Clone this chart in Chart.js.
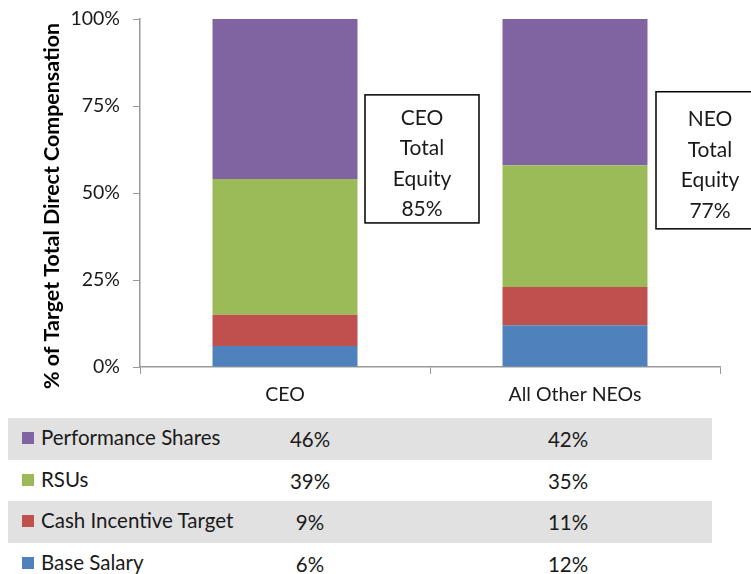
<!DOCTYPE html>
<html>
<head>
<meta charset="utf-8">
<script src="https://cdn.jsdelivr.net/npm/chart.js@4"></script>
<style>
  body { margin: 0; background: #fff; font-family: Lato, "Open Sans", sans-serif; }
  #wrap { position: relative; width: 751px; height: 574px; overflow: hidden; }
  #chartBox { position: absolute; left: 0; top: 0; width: 751px; height: 410px; }
  #table { position: absolute; left: 8px; top: 418px; width: 704px; }
  .row { position: relative; height: 41.5px; font-size: 20.5px; color: #1a1a1a; }
  .row.shade { background: #e1e1e1; }
  .sw { position: absolute; left: 14px; top: 14px; width: 12px; height: 12px; }
  .lab { position: absolute; left: 33px; top: 7px; }
  .val { position: absolute; top: 9px; width: 80px; margin-left: -40px; text-align: center; }
</style>
</head>
<body>
<div id="wrap">
  <div id="chartBox"><canvas id="myChart"></canvas></div>
  <div id="table"></div>
</div>
<script>
const categories = ['CEO', 'All Other NEOs'];
const baseSalary = [6, 12];
const cashIncentive = [9, 11];
const rsus = [39, 35];
const perfShares = [46, 42];
const totalEquity = [85, 77];
const boxNames = ['CEO', 'NEO'];
const yTicks = [0, 25, 50, 75, 100];
const yTitle = '% of Target Total Direct Compensation';

const dataBar = {
  labels: categories,
  datasets: [
    { label: 'Base Salary', data: baseSalary, backgroundColor: '#4f81bd' },
    { label: 'Cash Incentive Target', data: cashIncentive, backgroundColor: '#c0504d' },
    { label: 'RSUs', data: rsus, backgroundColor: '#9bbb59' },
    { label: 'Performance Shares', data: perfShares, backgroundColor: '#8064a2' }
  ]
};

// boxes with the total equity next to each bar, plus the y title
const equityBoxes = {
  id: 'equityBoxes',
  afterDatasetsDraw(chart) {
    const ctx = chart.ctx;
    const x = chart.scales.x, y = chart.scales.y;
    const spots = [
      { dx: 80, w: 114, top: 78.2, bottom: 41.4, tx: 57 },
      { dx: 81, w: 96, top: 79.1, bottom: 39.7, tx: 54 }
    ];
    ctx.save();
    spots.forEach((s, i) => {
      const left = x.getPixelForValue(i) + s.dx;
      const t = y.getPixelForValue(s.top);
      const b = y.getPixelForValue(s.bottom);
      ctx.fillStyle = '#fff';
      ctx.fillRect(left, t, s.w, b - t);
      ctx.strokeStyle = '#000';
      ctx.lineWidth = 1.5;
      ctx.strokeRect(left, t, s.w, b - t);
      ctx.fillStyle = '#1a1a1a';
      ctx.font = '21px Lato, "Open Sans", sans-serif';
      ctx.textAlign = 'center';
      ctx.textBaseline = 'middle';
      const lines = [boxNames[i], 'Total', 'Equity', totalEquity[i] + '%'];
      const mid = (t + b) / 2 + 5;
      lines.forEach((ln, k) => {
        ctx.fillText(ln, left + s.tx, mid + (k - 1.5) * 30.5);
      });
    });

    ctx.translate(52, y.getPixelForValue(50) + 13);
    ctx.rotate(-Math.PI / 2);
    ctx.fillStyle = '#000';
    ctx.font = 'bold 21.4px Lato, "Open Sans", sans-serif';
    ctx.fillText(yTitle, 0, 0);
    ctx.restore();
  }
};

const configBar = {
  type: 'bar',
  data: dataBar,
  options: {
    responsive: true,
    maintainAspectRatio: false,
    animation: false,
    categoryPercentage: 1,
    barPercentage: 0.5,
    layout: { padding: { top: 19, right: 31, left: 0, bottom: 0 } },
    plugins: { legend: { display: false }, tooltip: { enabled: false } },
    scales: {
      x: {
        stacked: true,
        afterFit(scale) { scale.height = 43; scale.paddingLeft = 0; scale.paddingRight = 0; },
        grid: { offset: true, drawOnChartArea: false, drawTicks: true, tickLength: 7, color: '#999' },
        border: { display: true, color: '#999', width: 1.5 },
        ticks: { color: '#1a1a1a', padding: 9, font: { family: 'Lato', size: 19.5 } }
      },
      y: {
        stacked: true,
        min: 0,
        max: 100,
        afterFit(scale) { scale.width = 140; scale.paddingTop = 0; scale.paddingBottom = 0; },
        afterBuildTicks(scale) { scale.ticks = yTicks.map(v => ({ value: v })); },
        grid: { drawOnChartArea: false, drawTicks: true, tickLength: 7, color: '#999' },
        border: { display: true, color: '#999', width: 1.5 },
        ticks: {
          color: '#1a1a1a', padding: 13, font: { family: 'Lato', size: 19.5 },
          callback: v => v + '%'
        }
      }
    }
  },
  plugins: [equityBoxes]
};

const myChart = new Chart(document.getElementById('myChart'), configBar);

// table under the chart, top row first
const tbl = document.getElementById('table');
const colX = [302, 560];
dataBar.datasets.slice().reverse().forEach((ds, i) => {
  const row = document.createElement('div');
  row.className = 'row' + (i % 2 === 0 ? ' shade' : '');
  let html = '<div class="sw" style="background:' + ds.backgroundColor + '"></div>' +
             '<div class="lab">' + ds.label + '</div>';
  ds.data.forEach((v, j) => {
    html += '<div class="val" style="left:' + colX[j] + 'px">' + v + '%</div>';
  });
  row.innerHTML = html;
  tbl.appendChild(row);
});
</script>
</body>
</html>
